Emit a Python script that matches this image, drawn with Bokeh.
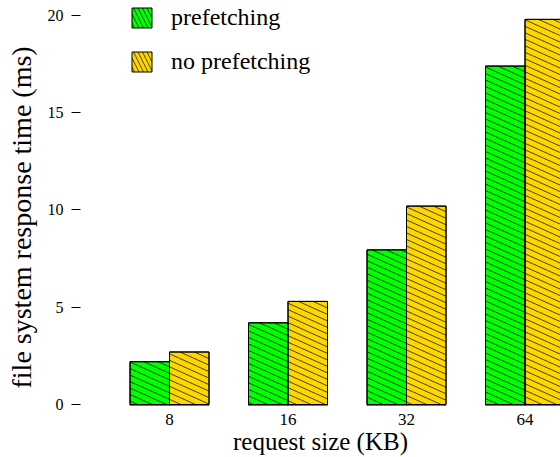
import numpy as np
from bokeh.plotting import figure
from bokeh.models import FixedTicker, Legend, LegendItem, ColumnDataSource, Range1d, Title
from bokeh.embed import file_html
from bokeh.resources import INLINE

# ---- data ----
sizes = ["8", "16", "32", "64"]
prefetching = [2.2, 4.2, 7.95, 17.4]
no_prefetching = [2.7, 5.3, 10.2, 19.8]
y_ticks = [0, 5, 10, 15, 20]

groups = list(range(1, len(sizes) + 1))
bw = 1.0 / 3.0

W, H = 560, 457
X0R, X1R = 0.2489, 4.2995
Y0R, Y1R = -0.0514, 20.771
FL, FB = 80, 52  # frame left border, bottom border

p = figure(width=W, height=H, output_backend="svg", toolbar_location=None,
           x_range=Range1d(X0R, X1R), y_range=Range1d(Y0R, Y1R),
           min_border_left=FL, min_border_right=0, min_border_top=0, min_border_bottom=FB)
p.outline_line_color = None
p.xgrid.visible = False
p.ygrid.visible = False
p.background_fill_color = "white"
p.border_fill_color = "white"
p.extra_y_ranges = {"hidden": Range1d(1000, 1001)}

green = "#00FF00"
gold = "#FFD700"

src_g = ColumnDataSource(dict(x=[g - bw / 2 for g in groups], top=prefetching))
src_y = ColumnDataSource(dict(x=[g + bw / 2 for g in groups], top=no_prefetching))
p.vbar(x="x", top="top", bottom=0, width=bw, source=src_g, fill_color=green,
       line_color="black", line_width=1)
p.vbar(x="x", top="top", bottom=0, width=bw, source=src_y, fill_color=gold,
       line_color="black", line_width=1)

# hatch lines (slope & spacing in pixels converted to data units)
px_x = (W - FL) / (X1R - X0R)
px_y = (H - FB) / (Y1R - Y0R)
k = 0.45 * px_x / px_y
db = 6.5 / px_y


def hatch(x0, x1, h):
    a0, b0, a1, b1 = [], [], [], []
    bmin = k * x0
    bmax = h + k * x1
    for bb in np.arange(np.floor(bmin / db) * db, bmax + db, db):
        lo = max(x0, (bb - h) / k)
        hi = min(x1, bb / k)
        if hi > lo:
            a0.append(lo); b0.append(bb - k * lo)
            a1.append(hi); b1.append(bb - k * hi)
    return a0, b0, a1, b1


SX0, SY0, SX1, SY1 = [], [], [], []
for g, v1, v2 in zip(groups, prefetching, no_prefetching):
    for (xa, xb, h) in [(g - bw, g, v1), (g, g + bw, v2)]:
        a0, b0, a1, b1 = hatch(xa, xb, h)
        SX0 += a0; SY0 += b0; SX1 += a1; SY1 += b1
p.segment(SX0, SY0, SX1, SY1, line_color="black", line_width=1, line_alpha=0.7)

# outlines on top
p.vbar(x="x", top="top", bottom=0, width=bw, source=src_g, fill_color=None,
       line_color="black", line_width=1)
p.vbar(x="x", top="top", bottom=0, width=bw, source=src_y, fill_color=None,
       line_color="black", line_width=1)

# legend-only renderers (drawn in an out-of-view range)
lg = p.vbar(x="x", top="top", bottom=0, width=bw, source=src_g, y_range_name="hidden",
            fill_color=green, line_color="black",
            hatch_pattern="\\", hatch_scale=9, hatch_weight=1, hatch_color="black", hatch_alpha=0.7)
ly = p.vbar(x="x", top="top", bottom=0, width=bw, source=src_y, y_range_name="hidden",
            fill_color=gold, line_color="black",
            hatch_pattern="\\", hatch_scale=9, hatch_weight=1, hatch_color="black", hatch_alpha=0.7)
legend = Legend(items=[LegendItem(label="prefetching", renderers=[lg]),
                       LegendItem(label="no prefetching", renderers=[ly])],
                location=(49, 330), padding=0, margin=0, border_line_color=None,
                background_fill_alpha=0, glyph_width=25, glyph_height=25,
                label_height=25, spacing=17, label_standoff=17,
                label_text_font="Liberation Serif", label_text_font_size="24px",
                label_text_color="black")
p.add_layout(legend)

# axes
font = "Liberation Serif"
ya = p.yaxis[0]
ya.ticker = FixedTicker(ticks=y_ticks)
ya.minor_tick_line_color = None
ya.axis_line_color = None
ya.major_tick_in = 0
ya.major_tick_out = 9
ya.major_tick_line_color = "black"
ya.major_label_standoff = 8
ya.major_label_text_font = font
ya.major_label_text_font_size = "16px"
ya.major_label_text_color = "black"

# y-axis title as a side title, positioned along the axis like the original
p.add_layout(Title(text="file system response time (ms)", align="left", offset=17,
                   vertical_align="top", standoff=11,
                   text_font=font, text_font_size="28px", text_font_style="normal",
                   text_color="black"), "left")

xa = p.xaxis[0]
xa.ticker = FixedTicker(ticks=groups)
xa.major_label_overrides = {g: s for g, s in zip(groups, sizes)}
xa.minor_tick_line_color = None
xa.major_tick_line_color = None
xa.major_tick_in = 0
xa.major_tick_out = 0
xa.axis_line_color = None
xa.major_label_standoff = 8
xa.major_label_text_font = font
xa.major_label_text_font_size = "17px"
xa.major_label_text_color = "black"
xa.axis_label = "request size (KB)"
xa.axis_label_text_font = font
xa.axis_label_text_font_size = "25px"
xa.axis_label_text_font_style = "normal"
xa.axis_label_text_color = "black"
xa.axis_label_standoff = 0

open("out.html", "w").write(file_html(p, INLINE))
